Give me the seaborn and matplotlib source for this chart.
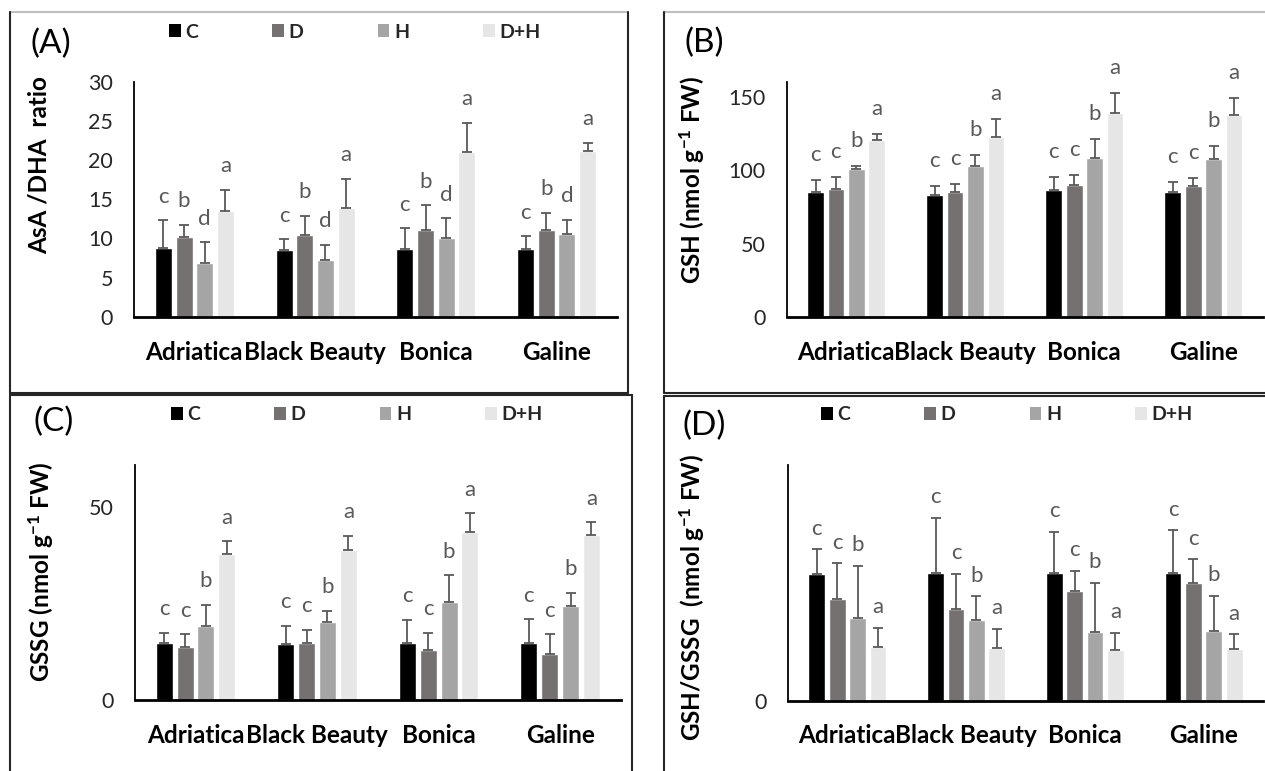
import matplotlib
matplotlib.use("Agg")
import matplotlib.pyplot as plt
from matplotlib.lines import Line2D
from matplotlib.patches import Patch
import seaborn as sns
import pandas as pd
import numpy as np

# ---------------- data ----------------
varieties = ["Adriatica", "Black Beauty", "Bonica", "Galine"]
treatments = ["C", "D", "H", "D+H"]
colors = ["#000000", "#767171", "#A5A5A5", "#E7E6E6"]

# values per treatment (C, D, H, D+H), each across varieties
asa_mean = [[8.8, 8.5, 8.65, 8.7], [10.2, 10.4, 11.1, 11.1],
            [6.9, 7.25, 10.05, 10.6], [13.5, 13.9, 21.0, 21.2]]
asa_sd = [[3.5, 1.4, 2.65, 1.6], [1.55, 2.5, 3.15, 2.2],
          [2.6, 1.95, 2.5, 1.75], [2.7, 3.7, 3.7, 1.0]]
asa_letters = [["c"] * 4, ["b"] * 4, ["d"] * 4, ["a"] * 4]

gsh_mean = [[85.2, 83.4, 86.4, 85.2], [87.0, 85.2, 90.2, 89.3],
            [100.5, 102.5, 108.4, 107.3], [120.5, 122.7, 138.6, 137.5]]
gsh_sd = [[7.8, 5.9, 8.8, 6.4], [8.5, 5.3, 6.6, 5.0],
          [2.5, 8.0, 12.7, 9.1], [3.8, 12.3, 13.9, 11.4]]
gsh_letters = [["c"] * 4, ["c"] * 4, ["b"] * 4, ["a"] * 4]

gssg_mean = [[14.7, 14.45, 14.9, 14.7], [13.75, 14.9, 13.1, 12.0],
             [19.3, 20.2, 25.4, 24.5], [37.9, 38.9, 43.7, 42.8]]
gssg_sd = [[2.8, 4.75, 5.9, 6.2], [3.35, 3.4, 4.4, 5.1],
           [5.4, 2.9, 7.0, 3.4], [3.3, 3.7, 4.8, 3.3]]
gssg_letters = [["c"] * 4, ["c"] * 4, ["b"] * 4, ["a"] * 4]

ratio_mean = [[3.81, 3.83, 3.83, 3.82], [3.04, 2.74, 3.28, 3.53],
              [2.49, 2.42, 2.05, 2.10], [1.60, 1.58, 1.52, 1.54]]
ratio_sd = [[0.73, 1.65, 1.24, 1.29], [1.08, 1.07, 0.61, 0.71],
            [1.55, 0.71, 1.49, 1.05], [0.59, 0.58, 0.52, 0.45]]
ratio_letters = [["c"] * 4, ["c"] * 4, ["b"] * 4, ["a"] * 4]

# ---------------- style ----------------
sns.set_theme(style="white")
plt.rcParams["font.family"] = ["Lato", "DejaVu Sans"]
plt.rcParams["mathtext.default"] = "regular"

W, H = 1265, 771
fig = plt.figure(figsize=(W / 100, H / 100), dpi=100)


def rect(left, right, bottom, top):
    return [left / W, 1 - bottom / H, (right - left) / W, (bottom - top) / H]


def panel(pos, mean, sd, letters, ylim, yticks, ylabel, label_px, letter_off):
    ax = fig.add_axes(pos)
    rows = []
    for ti, t in enumerate(treatments):
        for vi, v in enumerate(varieties):
            rows.append({"variety": v, "treatment": t, "value": mean[ti][vi]})
    df = pd.DataFrame(rows)
    sns.barplot(data=df, x="variety", y="value", hue="treatment",
                order=varieties, hue_order=treatments, palette=colors,
                width=0.686, gap=0.18, errorbar=None, legend=False,
                saturation=1, ax=ax)
    bar_containers = list(ax.containers)
    for ti, cont in enumerate(bar_containers):
        xs = [b.get_x() + b.get_width() / 2 for b in cont]
        ys = [b.get_height() for b in cont]
        ax.errorbar(xs, ys, yerr=[np.zeros(len(ys)), sd[ti]], fmt="none",
                    ecolor="#595959", elinewidth=1.3, capsize=3.3,
                    capthick=1.3)
        for x, y, e, l in zip(xs, ys, sd[ti], letters[ti]):
            ax.annotate(l, (x, y + e), xytext=(0, letter_off),
                        textcoords="offset points", ha="center",
                        va="center", fontsize=16, color="#595959")
    ax.set_xlim(-0.5, 3.5)
    ax.set_ylim(*ylim)
    ax.set_yticks(yticks)
    ax.set_xlabel("")
    ax.set_ylabel(ylabel, fontsize=17.5, fontweight="bold", va="center",
                  color="#000000")
    lx, ly = label_px
    p = ax.get_position()
    ax.yaxis.set_label_coords((lx / W - p.x0) / p.width,
                              ((1 - ly / H) - p.y0) / p.height)
    for s in ["top", "right"]:
        ax.spines[s].set_visible(False)
    ax.spines["left"].set_color("#000000")
    ax.spines["left"].set_linewidth(1.3)
    ax.spines["bottom"].set_color("#000000")
    ax.spines["bottom"].set_linewidth(2.0)
    ax.tick_params(axis="y", length=0, pad=15, labelsize=15.5,
                   labelcolor="#262626")
    ax.tick_params(axis="x", length=0, pad=17, labelsize=17.5)
    for t in ax.get_xticklabels():
        t.set_fontweight("bold")
        t.set_color("#000000")
    ax.set_facecolor("none")
    return ax


axA = panel(rect(134, 617, 317, 81.5), asa_mean, asa_sd, asa_letters,
            (0, 30), [0, 5, 10, 15, 20, 25, 30], "AsA /DHA  ratio",
            (39, 165), 17)
axB = panel(rect(786.6, 1263, 317, 82), gsh_mean, gsh_sd, gsh_letters,
            (0, 160), [0, 50, 100, 150], "GSH (nmol g$^{-1}$ FW)",
            (692, 180), 18)
axC = panel(rect(134.7, 621, 700, 465), gssg_mean, gssg_sd, gssg_letters,
            (0, 61), [0, 50], "GSSG (nmol g$^{-1}$ FW)",
            (41, 572), 17)
axD = panel(rect(788, 1263, 700.7, 465), ratio_mean, ratio_sd, ratio_letters,
            (0, 7.07), [0], "GSH/GSSG  (nmol g$^{-1}$ FW)",
            (692, 597), 15)

# panel tags
for txt, x, y in [("(A)", 51, 44), ("(B)", 704, 43), ("(C)", 54, 422),
                  ("(D)", 704, 426)]:
    fig.text(x / W, 1 - y / H, txt, ha="center", va="center", fontsize=24,
             color="#000000")

# legends
handles = [Patch(facecolor=c, edgecolor="none", label=t)
           for c, t in zip(colors, treatments)]
for x, y in [(169, 32), (171, 415), (821, 415)]:
    leg = fig.legend(handles=handles, loc="center left",
                     bbox_to_anchor=(x / W, 1 - y / H), ncol=4,
                     frameon=False, fontsize=14, handlelength=0.6,
                     handleheight=0.6, handletextpad=0.25, columnspacing=3.8,
                     borderpad=0, borderaxespad=0)
    for t in leg.get_texts():
        t.set_fontweight("bold")

# panel borders
dark = "#262626"
gray = "#BFBFBF"
segs = [
    ((10, 628), (12, 12), gray), ((10, 10), (12, 393), dark),
    ((628, 628), (12, 393), dark), ((10, 628), (393, 393), dark),
    ((664, 1265), (12, 12), gray), ((664, 664), (12, 393), dark),
    ((664, 1265), (393, 393), dark),
    ((10, 632), (395, 395), dark), ((10, 10), (395, 771), dark),
    ((632, 632), (395, 771), dark),
    ((664, 1265), (396, 396), dark), ((664, 664), (396, 771), dark),
]
for (x0, x1), (y0, y1), c in segs:
    fig.add_artist(Line2D([x0 / W, x1 / W], [1 - y0 / H, 1 - y1 / H],
                          transform=fig.transFigure, color=c, lw=1.5))

fig.savefig("out.png", dpi=100)
